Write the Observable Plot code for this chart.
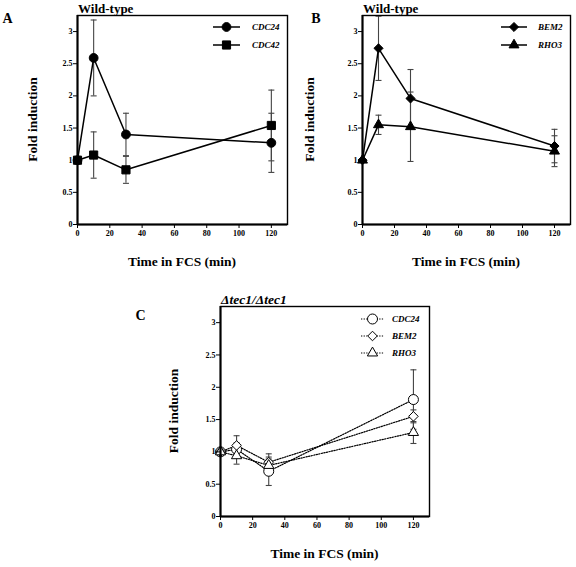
<!DOCTYPE html>
<html><head><meta charset="utf-8">
<script src="https://cdn.jsdelivr.net/npm/d3@7"></script>
<script src="https://cdn.jsdelivr.net/npm/@observablehq/plot@0.6"></script>
<style>
body{margin:0;background:#fff;}
#fig{position:relative;width:576px;height:567px;overflow:hidden;font-family:"Liberation Serif",serif;}
#fig svg{position:absolute;}
</style></head><body><div id="fig"></div>
<script>
// ---- data ----
const times = [0, 10, 30, 120];
const xTicks = [0, 20, 40, 60, 80, 100, 120];
const yTicks = [0, 0.5, 1, 1.5, 2, 2.5, 3];
const seriesNamesA = ["CDC24", "CDC42"];
const seriesNamesB = ["BEM2", "RHO3"];
const seriesNamesC = ["CDC24", "BEM2", "RHO3"];
const cdc24WT = [1.00, 2.59, 1.40, 1.27];
const cdc24WTErr = [0, 0.59, 0.33, 0.46];
const cdc42WT = [1.00, 1.08, 0.85, 1.54];
const cdc42WTErr = [0, 0.36, 0.21, 0.55];
const bem2WT = [1.00, 2.74, 1.96, 1.22];
const bem2WTErr = [0, 0.50, 0.45, 0.26];
const rho3WT = [1.00, 1.55, 1.52, 1.14];
const rho3WTErr = [0, 0.15, 0.54, 0.24];
const cdc24Tec = [1.00, 1.04, 0.70, 1.81];
const cdc24TecErr = [0, 0.10, 0.22, 0.46];
const bem2Tec = [1.00, 1.10, 0.84, 1.55];
const bem2TecErr = [0, 0.15, 0.13, 0.10];
const rho3Tec = [1.00, 0.94, 0.79, 1.30];
const rho3TecErr = [0, 0.13, 0.10, 0.17];

const FONT = '"Liberation Serif", "Times New Roman", Times, serif';
const capSymbol = {draw(ctx, size) { const w = Math.sqrt(size / Math.PI); ctx.moveTo(-w, 0); ctx.lineTo(w, 0); }};
const symbolMap = {circle: d3.symbolCircle, square: d3.symbolSquare, diamond2: d3.symbolDiamond2, triangle: d3.symbolTriangle};

function rowsOf(name, vals, errs) {
  return times.map((t, i) => ({series: name, t, v: vals[i], e: errs[i]}));
}

function panel(cfg) {
  const {left, top, width, height, ml, mr, mt, mb, series, dashed} = cfg;
  const all = series.flatMap(s => s.rows);
  const bars = all.filter(d => d.e > 0);
  const caps = bars.flatMap(d => [{t: d.t, y: d.v + d.e}, {t: d.t, y: d.v - d.e}]);
  const dash = dashed ? "1.3,1.3" : null;
  const lw = dashed ? 1.2 : 1.5;
  const marks = [
    Plot.ruleX(bars, {x: "t", y1: d => d.v - d.e, y2: d => d.v + d.e, stroke: "#444", strokeWidth: 1.1}),
    Plot.dot(caps, {x: "t", y: "y", symbol: capSymbol, r: 3, stroke: "#444", strokeWidth: 1.1, fill: "none"}),
    Plot.line(all, {x: "t", y: "v", z: "series", stroke: "black", strokeWidth: lw, strokeDasharray: dash}),
    ...series.map(s => Plot.dot(s.rows, {x: "t", y: "v", symbol: s.symbol, r: s.r, fill: s.fill, stroke: "black", strokeWidth: 1})),
    Plot.frame({stroke: "black", strokeWidth: 1.4}),
    Plot.ruleX([0], {stroke: "black", strokeWidth: 2}),
    Plot.ruleY([0], {stroke: "black", strokeWidth: 2}),
    Plot.axisY({ticks: yTicks, tickFormat: d => String(d), tickSize: 4, tickPadding: 1, label: null}),
    Plot.axisX({ticks: xTicks, tickFormat: d => String(d), tickSize: 4, tickPadding: 2, label: null})
  ];
  const svg = Plot.plot({
    width, height, marginLeft: ml, marginRight: mr, marginTop: mt, marginBottom: mb,
    x: {domain: [0, 130]}, y: {domain: [0, 3.25]},
    style: {fontFamily: FONT, fontSize: "8px", fontWeight: "bold", background: "transparent", overflow: "visible"},
    marks
  });
  svg.style.left = left + "px";
  svg.style.top = top + "px";
  const g = d3.select(svg).append("g").attr("font-family", FONT).attr("fill", "black").attr("text-anchor", "start");
  const fl = ml, fr = width - mr, ft = mt, fb = height - mb;
  // panel letter
  g.append("text").attr("x", cfg.letterX).attr("y", cfg.letterY).attr("font-size", 14).attr("font-weight", "bold").attr("text-anchor", "middle").text(cfg.letter);
  // title
  g.append("text").attr("x", fl + 1).attr("y", ft - 2.5).attr("font-size", cfg.titleSize).attr("font-weight", "bold")
    .attr("text-anchor", "start").attr("font-style", cfg.titleItalic ? "italic" : "normal").text(cfg.title);
  // y label
  g.append("text").attr("transform", `translate(${fl + cfg.ylabDx},${(ft + fb) / 2}) rotate(-90)`)
    .attr("font-size", 13.5).attr("font-weight", "bold").attr("text-anchor", "middle").attr("dominant-baseline", "central").text("Fold induction");
  // x label
  g.append("text").attr("x", (fl + fr) / 2).attr("y", fb + 42).attr("font-size", 13.5).attr("font-weight", "bold").attr("text-anchor", "middle").text("Time in FCS (min)");
  // legend
  series.forEach((s, i) => {
    const y = ft + cfg.legRows[i];
    g.append("line").attr("x1", fr + cfg.legX0).attr("x2", fr + cfg.legX1).attr("y1", y).attr("y2", y)
      .attr("stroke", "black").attr("stroke-width", lw).attr("stroke-dasharray", dash);
    g.append("path").attr("transform", `translate(${fr + (cfg.legX0 + cfg.legX1) / 2},${y})`)
      .attr("d", d3.symbol(symbolMap[s.symbol], Math.PI * s.r * s.r)())
      .attr("fill", s.fill).attr("stroke", "black").attr("stroke-width", 1);
    g.append("text").attr("x", fr + cfg.legLab).attr("y", y).attr("dominant-baseline", "central").attr("text-anchor", "start")
      .attr("font-size", 9).attr("font-weight", "bold").attr("font-style", "italic").text(s.name);
  });
  document.getElementById("fig").appendChild(svg);
}

panel({
  left: 0, top: 0, width: 290, height: 280, ml: 77, mr: 3, mt: 15, mb: 56,
  letter: "A", letterX: 7.5, letterY: 22.5, title: "Wild-type", titleSize: 13, titleItalic: false, ylabDx: -45,
  legX0: -74, legX1: -47, legLab: -35, legRows: [12, 30],
  series: [
    {name: seriesNamesA[0], rows: rowsOf(seriesNamesA[0], cdc24WT, cdc24WTErr), symbol: "circle", r: 4.4, fill: "black"},
    {name: seriesNamesA[1], rows: rowsOf(seriesNamesA[1], cdc42WT, cdc42WTErr), symbol: "square", r: 4.6, fill: "black"}
  ]
});
panel({
  left: 290, top: 0, width: 286, height: 280, ml: 72, mr: 6, mt: 15, mb: 56,
  letter: "B", letterX: 26, letterY: 22.5, title: "Wild-type", titleSize: 13, titleItalic: false, ylabDx: -53,
  legX0: -69, legX1: -43, legLab: -32, legRows: [12, 30],
  series: [
    {name: seriesNamesB[0], rows: rowsOf(seriesNamesB[0], bem2WT, bem2WTErr), symbol: "diamond2", r: 4.1, fill: "black"},
    {name: seriesNamesB[1], rows: rowsOf(seriesNamesB[1], rho3WT, rho3WTErr), symbol: "triangle", r: 3.7, fill: "black"}
  ]
});
panel({
  left: 130, top: 290, width: 305, height: 277, ml: 90, mr: 6, mt: 16, mb: 51, dashed: true,
  letter: "C", letterX: 10.5, letterY: 30, title: "Δtec1/Δtec1", titleSize: 13.5, titleItalic: true, ylabDx: -47,
  legX0: -68, legX1: -45, legLab: -37, legRows: [13, 30, 47],
  series: [
    {name: seriesNamesC[0], rows: rowsOf(seriesNamesC[0], cdc24Tec, cdc24TecErr), symbol: "circle", r: 5, fill: "white"},
    {name: seriesNamesC[1], rows: rowsOf(seriesNamesC[1], bem2Tec, bem2TecErr), symbol: "diamond2", r: 4.3, fill: "white"},
    {name: seriesNamesC[2], rows: rowsOf(seriesNamesC[2], rho3Tec, rho3TecErr), symbol: "triangle", r: 3.8, fill: "white"}
  ]
});
</script></body></html>
